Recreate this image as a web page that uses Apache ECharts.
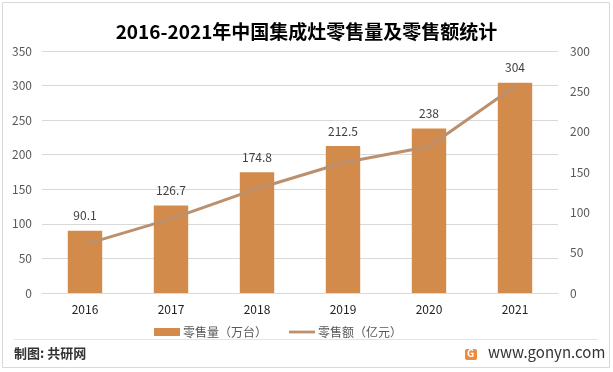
<!DOCTYPE html>
<html><head><meta charset="utf-8">
<script src="https://cdn.jsdelivr.net/npm/echarts@6/dist/echarts.min.js"></script>
<style>html,body{margin:0;padding:0;background:#fff}#c{width:613px;height:372px}</style>
</head><body><div id="c"></div>
<script>
const categories = ['2016','2017','2018','2019','2020','2021'];
const salesVolume = [90.1, 126.7, 174.8, 212.5, 238, 304];
const salesValue = [60.3, 91.9, 129.3, 161.5, 181.5, 256.2];
const leftTicks = [0, 350, 50];
const rightTicks = [0, 300, 50];
const FONT = '"Noto Sans CJK SC", "Noto Sans", sans-serif';
const chart = echarts.init(document.getElementById('c'));
chart.setOption({
  animation: false,
  backgroundColor: '#fff',
  textStyle: {fontFamily: FONT},
  title: {text: '2016-2021年中国集成灶零售量及零售额统计', left: 'center', top: 17,
    textStyle: {fontSize: 19, fontWeight: 'bold', color: '#000', fontFamily: FONT}},
  grid: {left: 42, right: 55, top: 51, bottom: 79},
  legend: {
    top: 321, left: 149, itemGap: 22, itemWidth: 26, itemHeight: 8,
    textStyle: {fontSize: 12, color: '#595959', fontFamily: FONT, padding: [0, 0, 0, -2]},
    data: [{name: '零售量（万台）', icon: 'rect'},
           {name: '零售额（亿元）', icon: 'path://M0,0 L28,0 L28,3 L0,3 Z'}]
  },
  xAxis: {type: 'category', data: categories,
    axisLine: {lineStyle: {color: '#d9d9d9'}}, axisTick: {show: false},
    axisLabel: {color: '#222', fontSize: 12, margin: 10, fontFamily: FONT}},
  yAxis: [
    {type: 'value', min: leftTicks[0], max: leftTicks[1], interval: leftTicks[2],
     axisLine: {show: false}, axisTick: {show: false},
     axisLabel: {color: '#595959', fontSize: 12, margin: 10},
     splitLine: {lineStyle: {color: '#d9d9d9'}}},
    {type: 'value', min: rightTicks[0], max: rightTicks[1], interval: rightTicks[2],
     axisLine: {show: false}, axisTick: {show: false},
     axisLabel: {color: '#595959', fontSize: 12, margin: 12},
     splitLine: {show: false}}
  ],
  series: [
    {name: '零售量（万台）', type: 'bar', data: salesVolume, barWidth: '40%',
     itemStyle: {color: '#D38B4C'},
     label: {show: true, position: 'top', distance: 9, color: '#404040', fontSize: 12}},
    {name: '零售额（亿元）', type: 'line', yAxisIndex: 1, data: salesValue,
     symbol: 'none', lineStyle: {color: '#BC8F6D', width: 3}, itemStyle: {color: '#BC8F6D'}}
  ],
  graphic: [
    {type: 'rect', shape: {x: 2.5, y: 2.5, width: 607, height: 365}, style: {fill: 'none', stroke: '#d9d9d9', lineWidth: 1}, silent: true},
    {type: 'line', shape: {x1: 14, y1: 339.5, x2: 598, y2: 339.5}, style: {stroke: '#e3e3e3', lineWidth: 1}},
    {type: 'text', left: 14, top: 347, style: {text: '制图: 共研网', fill: '#333', font: 'bold 13px ' + FONT}},
    {type: 'rect', shape: {x: 465, y: 349, width: 12, height: 11, r: 2}, style: {fill: '#F08A3A'}},
    {type: 'text', left: 467, top: 348, style: {text: 'G', fill: '#fff', font: 'bold 10px ' + FONT}},
    {type: 'text', left: 488, top: 345, style: {text: 'www.gonyn.com', fill: '#333', font: '15px ' + FONT}}
  ]
});
</script></body></html>
